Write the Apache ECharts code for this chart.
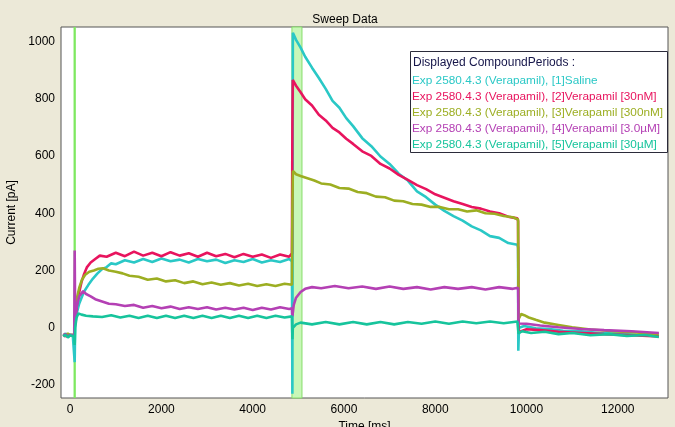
<!DOCTYPE html>
<html>
<head>
<meta charset="utf-8">
<script src="https://cdn.jsdelivr.net/npm/echarts@6/dist/echarts.min.js"></script>
<style>
  html, body { margin: 0; padding: 0; background: #ece9d8; }
  #chart { width: 675px; height: 427px; }
</style>
</head>
<body>
<div id="chart"></div>
<script>
const seriesNames = [
  'Exp 2580.4.3 (Verapamil), [1]Saline',
  'Exp 2580.4.3 (Verapamil), [2]Verapamil [30nM]',
  'Exp 2580.4.3 (Verapamil), [3]Verapamil [300nM]',
  'Exp 2580.4.3 (Verapamil), [4]Verapamil [3.0µM]',
  'Exp 2580.4.3 (Verapamil), [5]Verapamil [30µM]'
]
const seriesColors = ['#2ac8c6', '#e8145e', '#9cae22', '#b440b4', '#16c49c']

const xTicks = [0, 2000, 4000, 6000, 8000, 10000, 12000]
const yTicks = [-200, 0, 200, 400, 600, 800, 1000]

// green marker bands [start, end] in ms
const markers = [[75, 125], [4860, 5080]]

// [time ms, current pA]
const saline = [[-150,-28],[-100,-20],[-50,-32],[0,-24],[60,-30],[95,-30],[100,-120],[110,10],[150,55],[200,85],[250,105],[300,125],[400,150],[500,172],[600,190],[700,205],[800,212],[900,225],[1000,222],[1200,236],[1400,228],[1600,240],[1800,230],[2000,242],[2200,232],[2400,238],[2600,228],[2800,240],[3000,232],[3200,238],[3400,226],[3600,236],[3800,230],[4000,240],[4200,228],[4400,236],[4600,230],[4800,240],[4860,232],[4870,-230],[4880,1030],[4950,1005],[5050,978],[5150,946],[5300,908],[5450,872],[5600,834],[5750,792],[5900,768],[6050,732],[6200,704],[6400,662],[6600,634],[6800,598],[7000,572],[7200,538],[7400,514],[7600,476],[7800,456],[8000,430],[8200,408],[8400,390],[8600,374],[8800,354],[9000,340],[9200,320],[9400,314],[9600,296],[9800,290],[9815,280],[9820,-80],[9835,0],[9950,6],[10200,-2],[10500,-4],[10800,-10],[11200,-12],[11600,-18],[12000,-20],[12400,-24],[12900,-28]]

const vera30n = [[-150,-25],[-100,-30],[-50,-22],[0,-28],[95,-25],[105,20],[150,80],[200,125],[250,160],[300,185],[370,212],[450,228],[550,240],[650,252],[800,248],[1000,262],[1200,250],[1400,266],[1600,252],[1800,262],[2000,250],[2200,264],[2400,252],[2600,260],[2800,248],[3000,262],[3200,250],[3400,258],[3600,246],[3800,258],[4000,248],[4200,256],[4400,244],[4600,256],[4800,248],[4860,260],[4870,700],[4878,865],[4950,845],[5050,822],[5150,798],[5300,776],[5450,744],[5600,724],[5750,698],[5900,682],[6050,660],[6200,642],[6400,616],[6600,600],[6800,572],[7000,556],[7200,534],[7400,516],[7600,498],[7800,484],[8000,466],[8200,454],[8400,442],[8600,432],[8800,422],[9000,416],[9200,406],[9400,400],[9600,388],[9800,382],[9815,372],[9825,-15],[10000,-5],[10300,-8],[10700,-14],[11200,-18],[11700,-22],[12300,-26],[12900,-30]]

const vera300n = [[-150,-22],[-100,-28],[-50,-20],[0,-26],[95,-22],[105,40],[150,105],[200,140],[260,168],[330,185],[420,196],[520,200],[620,206],[720,208],[850,200],[1000,196],[1150,190],[1300,182],[1500,178],[1700,168],[1900,172],[2100,162],[2300,166],[2500,156],[2700,162],[2900,152],[3100,158],[3300,150],[3500,156],[3700,148],[3900,154],[4100,146],[4300,152],[4500,146],[4700,154],[4860,150],[4870,420],[4880,548],[4950,536],[5050,530],[5200,522],[5350,514],[5500,504],[5700,500],[5900,488],[6100,486],[6300,474],[6500,470],[6700,458],[6900,456],[7100,444],[7300,442],[7500,432],[7700,430],[7900,422],[8100,422],[8300,414],[8500,414],[8700,406],[8900,410],[9100,400],[9300,398],[9500,390],[9700,386],[9815,378],[9825,30],[9880,48],[9950,44],[10050,36],[10200,28],[10400,18],[10700,10],[11000,2],[11400,-6],[11900,-12],[12400,-16],[12900,-22]]

const vera3u = [[-150,-26],[-100,-22],[-50,-30],[0,-24],[90,-26],[100,270],[110,30],[150,80],[200,110],[285,128],[350,118],[450,110],[550,100],[700,92],[850,84],[1000,82],[1200,76],[1400,80],[1600,70],[1800,76],[2000,68],[2200,74],[2400,66],[2600,72],[2800,66],[3000,72],[3200,64],[3400,70],[3600,64],[3800,70],[4000,62],[4200,70],[4400,64],[4600,72],[4800,66],[4860,68],[4870,40],[4900,80],[4950,105],[5050,125],[5150,136],[5300,142],[5500,138],[5800,146],[6100,138],[6400,144],[6700,136],[7000,144],[7300,136],[7600,142],[7900,134],[8200,142],[8500,136],[8800,142],[9100,134],[9400,142],[9700,136],[9815,140],[9825,15],[10000,14],[10300,8],[10700,2],[11200,-4],[11700,-8],[12300,-12],[12900,-18]]

const vera30u = [[-150,-30],[-100,-24],[-50,-34],[0,-26],[90,-30],[100,-60],[110,0],[140,35],[180,50],[250,46],[350,42],[500,40],[700,38],[900,44],[1100,36],[1300,42],[1500,34],[1700,42],[1900,34],[2100,42],[2300,34],[2500,42],[2700,34],[2900,42],[3100,34],[3300,42],[3500,34],[3700,42],[3900,34],[4100,42],[4300,34],[4500,42],[4700,36],[4860,40],[4870,-40],[4880,0],[4950,12],[5050,18],[5300,12],[5600,20],[5900,12],[6200,20],[6500,12],[6800,20],[7100,12],[7400,20],[7700,14],[8000,22],[8300,14],[8600,22],[8900,16],[9200,22],[9500,16],[9800,22],[9815,20],[9825,-20],[9900,-12],[10100,-18],[10400,-14],[10700,-22],[11000,-18],[11400,-26],[11800,-22],[12200,-28],[12600,-25],[12900,-32]]

const allData = [saline, vera30n, vera300n, vera3u, vera30u]

const chart = echarts.init(document.getElementById('chart'))

const font = 'Arial, "Liberation Sans", sans-serif'

const series = allData.map((d, i) => ({
  name: seriesNames[i],
  type: 'line',
  data: d,
  showSymbol: false,
  animation: false,
  lineStyle: { color: seriesColors[i], width: 2.6 },
  itemStyle: { color: seriesColors[i] },
  z: 2 + i
}))

series[0].markArea = {
  silent: true,
  data: [
    [{ xAxis: markers[0][0], itemStyle: { color: '#7ee860' } }, { xAxis: markers[0][1] }],
    [{ xAxis: markers[1][0], itemStyle: { color: '#c8f7b8', borderColor: '#86de6a', borderWidth: 1 } }, { xAxis: markers[1][1] }]
  ]
}

const option = {
  backgroundColor: '#ece9d8',
  animation: false,
  textStyle: { fontFamily: font },
  grid: {
    left: 61, right: 7, top: 27, bottom: 29,
    outerBoundsMode: 'none',
    containLabel: false,
    show: true, backgroundColor: '#ffffff', borderColor: '#555555', borderWidth: 1
  },
  xAxis: {
    type: 'value',
    min: -200, max: 13100,
    name: 'Time [ms]',
    nameLocation: 'middle',
    nameGap: 22,
    nameTextStyle: { color: '#000', fontSize: 12, fontFamily: font },
    axisLine: { show: false },
    axisTick: { show: false },
    splitLine: { show: false },
    axisLabel: { customValues: xTicks, formatter: v => String(v), color: '#000', fontSize: 12, margin: 6, fontFamily: font }
  },
  yAxis: {
    type: 'value',
    min: -245, max: 1050,
    name: 'Current [pA]',
    nameLocation: 'middle',
    nameGap: 34,
    nameTextStyle: { color: '#000', fontSize: 12, fontFamily: font },
    axisLine: { show: false },
    axisTick: { show: false },
    splitLine: { show: false },
    axisLabel: { customValues: yTicks, formatter: v => String(v), color: '#000', fontSize: 12, margin: 6, fontFamily: font }
  },
  legend: {
    orient: 'vertical',
    left: 407, top: 74,
    icon: 'none',
    itemWidth: 0, itemHeight: 14, itemGap: 3,
    padding: 0,
    selectedMode: false,
    z: 10,
    textStyle: { fontSize: 11.8, fontFamily: font },
    data: seriesNames.map((n, i) => ({ name: n, textStyle: { color: seriesColors[i] } }))
  },
  graphic: [
    {
      type: 'text', x: 345, y: 14, z: 10,
      style: { text: 'Sweep Data', fill: '#000', font: '12px ' + font, textAlign: 'center' }
    },
    {
      type: 'rect', z: 9,
      shape: { x: 410.5, y: 51.5, width: 257, height: 101 },
      style: { fill: '#ffffff', stroke: '#2b2b3a', lineWidth: 1 }
    },
    {
      type: 'text', z: 10, x: 413, y: 57,
      style: { text: 'Displayed CompoundPeriods :', fill: '#16164a', font: '12px ' + font }
    }
  ],
  series: series
}

chart.setOption(option)
</script>
</body>
</html>
